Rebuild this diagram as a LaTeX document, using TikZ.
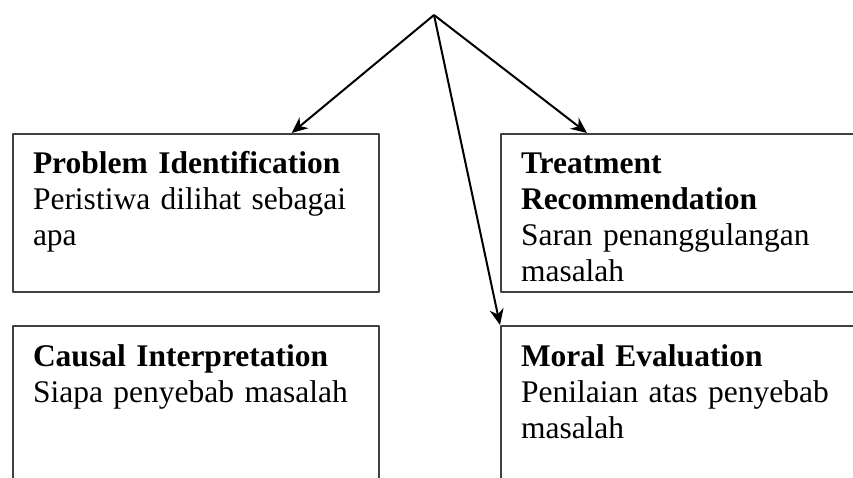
\documentclass[tikz,border=0pt]{standalone}
\usepackage{fontspec}
\setmainfont{Liberation Serif}
\usetikzlibrary{positioning,calc,arrows.meta}
\tikzset{kotak/.style={draw=black!75, line width=2pt, anchor=north west, align=left, inner xsep=20pt, inner ysep=0pt, text height=39pt}}
\begin{document}
\begin{tikzpicture}[x=1pt,y=1pt,font=\fontsize{31.5}{36}\selectfont, line join=round, >={Stealth[length=16pt,width=14pt]}]
	\useasboundingbox (0,0) rectangle (853,-477);
	\clip (0,0) rectangle (853,-477);
	\coordinate (puncak) at (434,-15);
	\node[kotak, text width=326pt, text depth=119pt] (problem) at (12,-133) {\textbf{Problem Identification}\\Peristiwa dilihat sebagai\\apa};
	\node[kotak, right=120pt of problem, text width=330pt, text depth=119pt] (treat) {\textbf{Treatment}\\\textbf{Recommendation}\\Saran penanggulangan\\masalah};
	\node[kotak, below=32pt of problem, text width=326pt, text height=40pt, text depth=150pt] (causal) {\textbf{Causal Interpretation}\\Siapa penyebab masalah};
	\node[kotak, below=32pt of treat, text width=330pt, text height=40pt, text depth=150pt] (moral) {\textbf{Moral Evaluation}\\Penilaian atas penyebab\\masalah};
	\draw[->, line width=2pt] (puncak) -- ($(problem.north west)!0.76!(problem.north east)$);
	\draw[->, line width=2pt] (puncak) -- ($(treat.north west)+(87,0)$);
	\draw[->, line width=2pt] (puncak) -- (moral.north west);
\end{tikzpicture}
\end{document}
